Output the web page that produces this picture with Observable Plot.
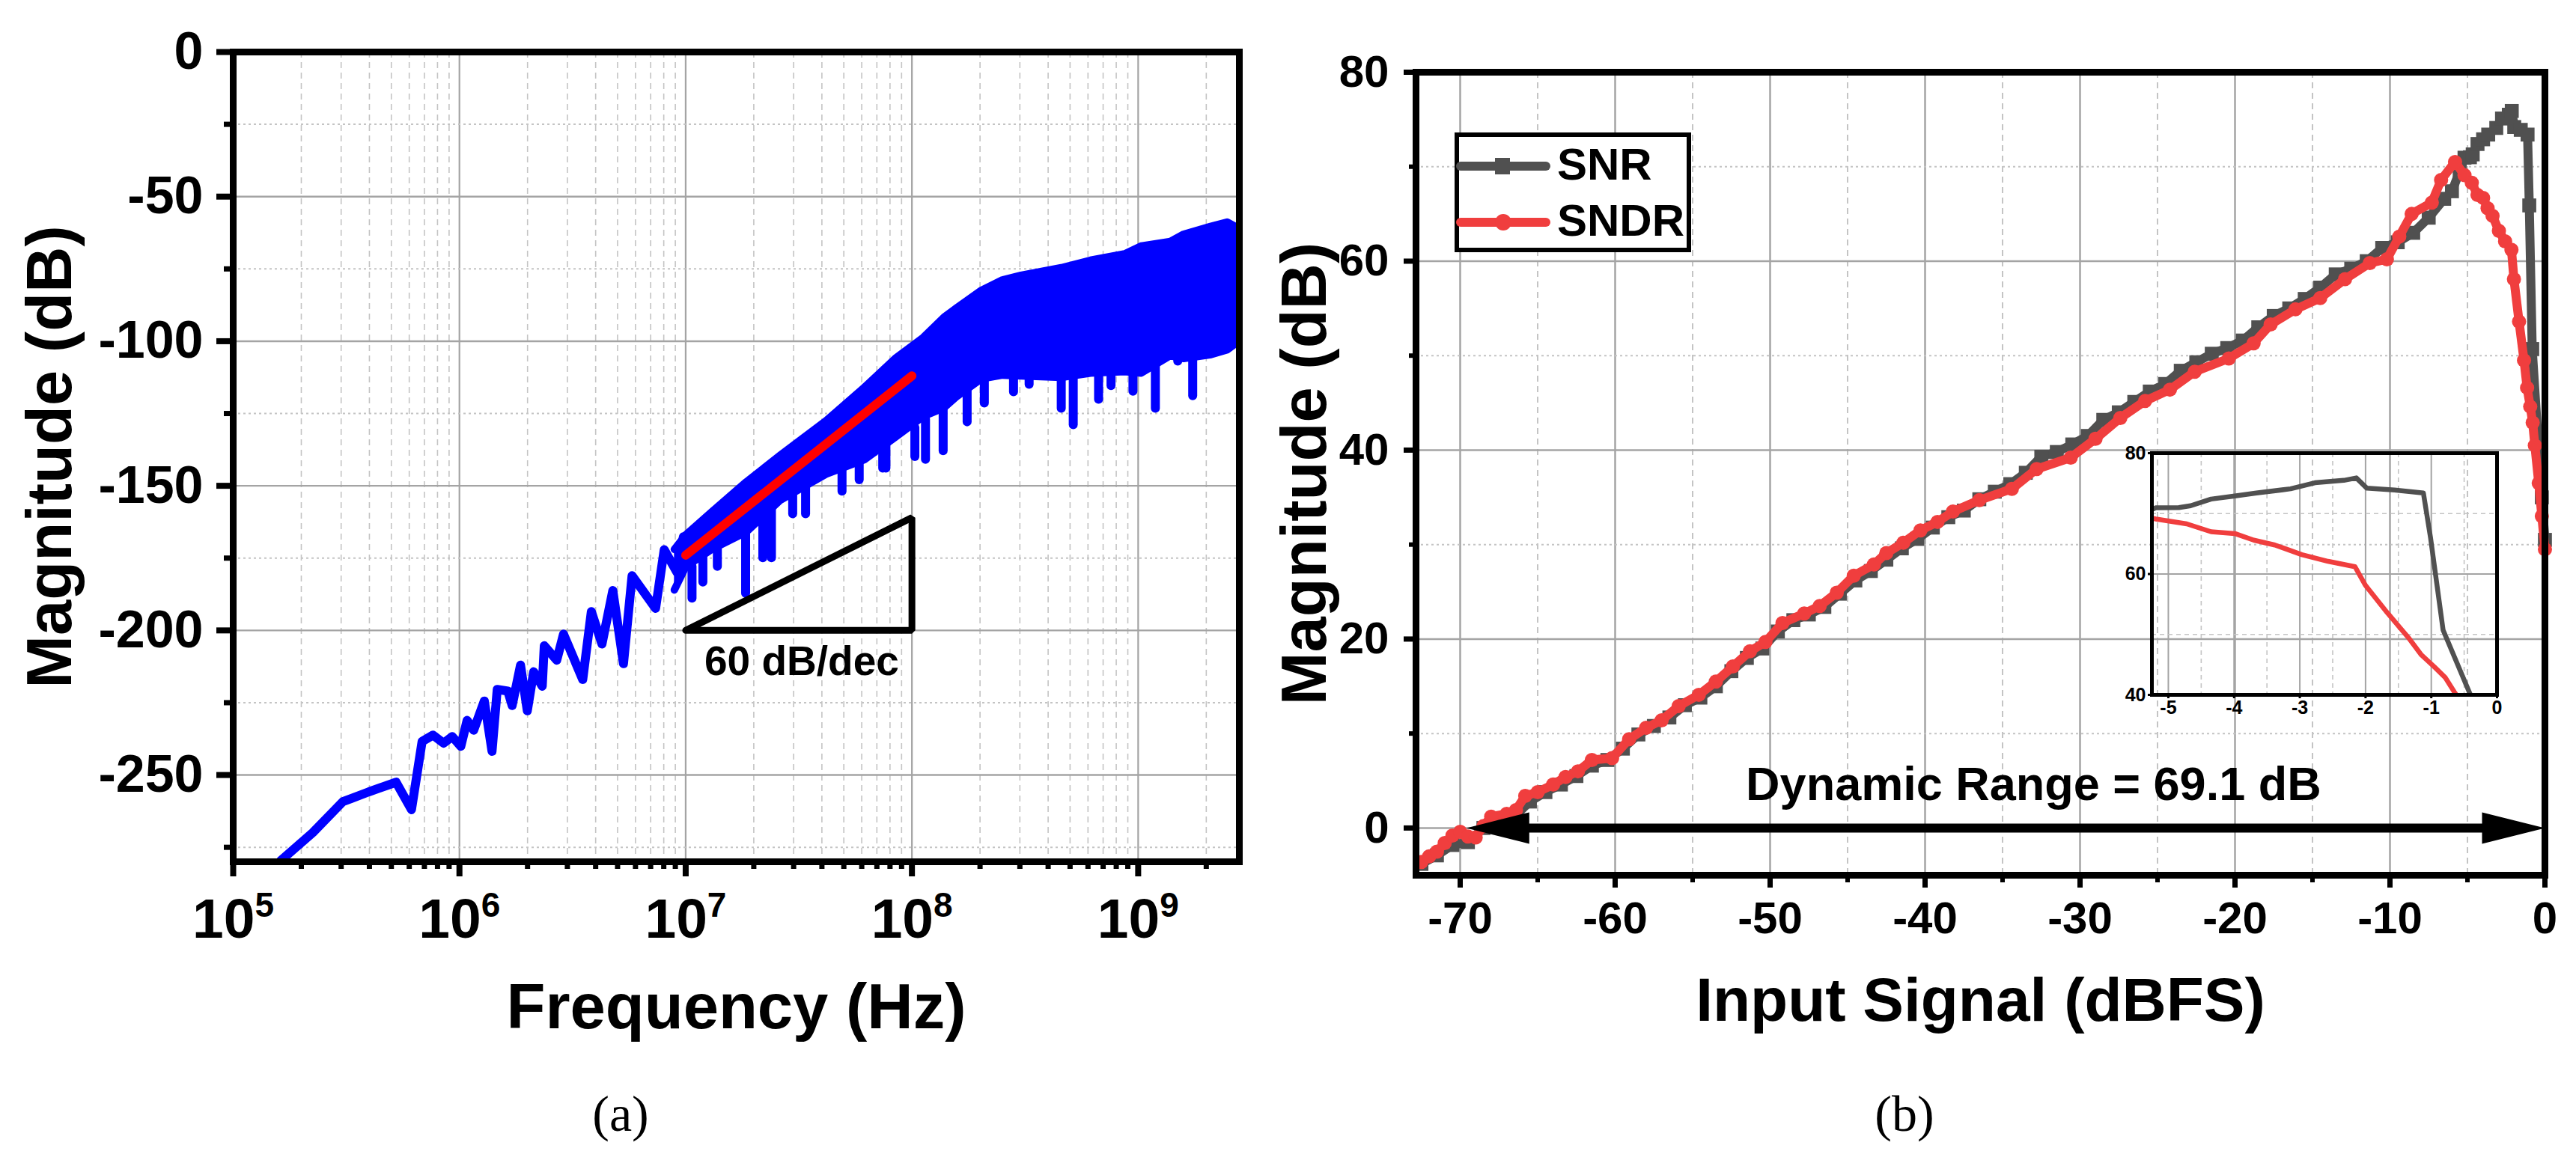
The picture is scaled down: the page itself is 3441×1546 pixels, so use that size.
<!DOCTYPE html>
<html>
<head>
<meta charset="utf-8">
<script src="https://cdn.jsdelivr.net/npm/d3@7"></script>
<script src="https://cdn.jsdelivr.net/npm/@observablehq/plot@0.6"></script>
<style>
  html, body { margin: 0; padding: 0; background: #fff; }
  #fig { position: relative; width: 3441px; height: 1546px; overflow: hidden; }
  .panel { position: absolute; }
  .cap { position: absolute; width: 200px; text-align: center;
         font-family: "Liberation Serif", "Times New Roman", serif; font-size: 68px; line-height: 68px; }
</style>
</head>
<body>
<div id="fig"></div>
<script>
// ---------- (a) output spectrum ----------
// frequencies are given as log10(Hz), magnitudes in dB
const lowLogF = [5.19, 5.21, 5.352, 5.485, 5.523, 5.6, 5.72, 5.788, 5.835, 5.883, 5.93, 5.968, 6.006, 6.034, 6.063,
  6.11, 6.144, 6.167, 6.214, 6.233, 6.27, 6.3, 6.328, 6.366, 6.375, 6.43, 6.46, 6.545, 6.583, 6.63,
  6.678, 6.725, 6.763, 6.867, 6.905, 6.962, 6.99];
const lowDb = [-283, -279.6, -269.9, -259.2, -258.1, -255.8, -252.5, -262, -238.4, -236.2, -239, -236.7, -240.1, -231.1, -234.5,
  -224.4, -241.8, -220.4, -221, -226, -212, -227.8, -214.3, -219.3, -205.3, -210.3, -201.3, -217, -193.5, -204.7,
  -186.2, -211.5, -181.1, -192.4, -172.1, -180, -167.6];

// dense noise band: upper and lower edge
const bandLogF = [6.95, 7.0, 7.115, 7.267, 7.418, 7.62, 7.789, 7.93, 8.05, 8.142, 8.2, 8.307, 8.4, 8.482, 8.66,
  8.789, 8.94, 9.013, 9.142, 9.201, 9.317, 9.393, 9.445];
const bandTop = [-172, -167, -159, -148.7, -139.4, -127.5, -116, -105.7, -98.7, -91.7, -88.3, -82.4, -78.8, -77.2, -74.6,
  -72, -69.8, -67.1, -65.5, -63, -60.4, -58.8, -61];
const bandBottom = [-186, -178, -172, -166, -155, -146, -141, -133, -126, -123, -119, -113, -111.7, -112, -112.5,
  -111, -110.5, -111, -105, -106, -104.7, -103, -100];

// downward spikes hanging under the band
const spikeLogF = [7.028, 7.076, 7.14, 7.265, 7.341, 7.379, 7.473, 7.53, 7.691, 7.767, 7.871, 7.885, 8.013, 8.06, 8.138,
  8.244, 8.32, 8.449, 8.518, 8.66, 8.713, 8.825, 8.88, 8.977, 9.076, 9.175, 9.241];
const spikeTop = [-178, -175, -170, -166, -160, -158, -152, -150, -144, -142, -137, -136, -130, -127, -123,
  -117, -113, -111, -111, -112, -112, -110, -110, -110, -108, -104, -104];
const spikeBottom = [-189, -183.4, -178, -187.3, -175, -175, -159.8, -159.8, -152, -148, -144, -144, -140, -141, -138,
  -128, -121.5, -117.6, -115, -123.3, -129, -120.2, -115.5, -117.4, -123.3, -107, -119];

// red slope fit and the slope triangle
const fitLogF = [7.0, 8.0];
const fitDb = [-174, -112];
const triLogF = [7, 8, 8, 7];
const triDb = [-200, -200, -161, -200];
const slopeNote = {logF: 7.083, db: -211, text: "60 dB/dec"};

const freqTickExp = [5, 6, 7, 8, 9];
const freqMinorMult = [2, 3, 4, 5, 6, 7, 8, 9];
const magTicks = [-250, -200, -150, -100, -50, 0];
const magMinor = [-275, -225, -175, -125, -75, -25];

// ---------- (b) SNR / SNDR vs input ----------
const snrIn = [-72.5, -71.5, -70.5, -69.5, -68.5, -67.5, -66.5, -65.5, -64.5, -63.5, -62.5, -61.5, -60.5, -59.5, -58.5,
  -57.5, -56.5, -55.5, -54.5, -53.5, -52.5, -51.5, -50.5, -49.5, -48.5, -47.5, -46.5, -45.5, -44.5, -43.5,
  -42.5, -41.5, -40.5, -39.5, -38.5, -37.5, -36.5, -35.5, -34.5, -33.5, -32.5, -31.5, -30.5, -29.5, -28.5,
  -27.5, -26.5, -25.5, -24.5, -23.5, -22.5, -21.5, -20.5, -19.5, -18.5, -17.5, -16.5, -15.5, -14.5, -13.5,
  -12.5, -11.5, -10.5, -9.5, -8.5, -7.5, -6.5, -6.0, -5.5, -5.19, -4.84, -4.66, -4.35, -3.99, -3.66,
  -3.14, -2.77, -2.33, -2.14, -1.98, -1.56, -1.12, -1.01, -0.82, -0.42, -0.2, 0];
const snrDb = [-3.8, -2.9, -1.8, -1.5, 0.0, 0.8, 1.2, 2.8, 3.8, 4.6, 5.5, 6.6, 7.2, 8.4, 9.9,
  10.8, 11.7, 13.0, 13.8, 15.0, 16.6, 18.0, 19.0, 20.8, 22.0, 22.6, 23.4, 24.8, 26.2, 27.2,
  28.4, 29.6, 30.6, 31.8, 32.9, 33.6, 34.8, 35.6, 36.4, 37.6, 39.3, 39.8, 40.6, 41.5, 43.2,
  44.0, 45.1, 46.2, 47.0, 48.4, 49.3, 50.2, 50.8, 51.6, 53.0, 54.2, 55.0, 56.0, 57.2, 58.6,
  59.2, 60.0, 61.4, 62.0, 63.0, 64.6, 66.6, 67.4, 69.5, 70.95, 71.0, 71.3, 72.4, 72.9, 73.4,
  74.1, 75.1, 75.5, 75.9, 74.2, 73.9, 73.4, 65.9, 50.7, 40.4, 35.0, 30.5];

const sndrIn = [-72.5, -72.0, -71.5, -71.0, -70.5, -70.0, -69.5, -69.0, -68.5, -68.0, -67.0, -66.4, -65.8, -65.0, -64.0,
  -63.2, -62.4, -61.5, -60.2, -59.1, -58.0, -57.0, -55.9, -54.6, -53.5, -52.4, -51.3, -50.3, -49.2, -47.8,
  -46.8, -45.7, -44.6, -43.3, -42.5, -41.4, -40.3, -39.2, -38.2, -36.5, -34.4, -32.8, -30.6, -29.0, -27.4,
  -25.8, -24.2, -22.6, -20.4, -18.8, -17.7, -16.1, -14.5, -12.9, -11.3, -10.2, -9.4, -8.6, -7.3, -6.7,
  -5.8, -5.19, -4.72, -4.35, -3.99, -3.70, -3.38, -2.97, -2.57, -2.16, -2.0, -1.67, -1.35, -1.15, -0.95,
  -0.79, -0.65, -0.4, -0.2, 0];
const sndrDb = [-3.6, -3.0, -2.5, -1.6, -0.8, -0.4, -0.9, -1.0, 0.2, 1.2, 1.5, 1.9, 3.4, 3.8, 4.6,
  5.4, 6.0, 7.2, 7.4, 9.4, 10.6, 11.4, 12.9, 14.1, 15.5, 17.1, 18.7, 19.7, 21.7, 22.7,
  23.5, 24.9, 26.7, 27.9, 29.1, 30.2, 31.5, 32.4, 33.5, 34.7, 35.9, 38.0, 39.2, 41.2, 43.4,
  45.2, 46.4, 48.3, 49.7, 51.3, 53.3, 54.9, 56.1, 58.1, 59.8, 60.2, 62.6, 65.0, 66.2, 68.6,
  70.5, 69.1, 68.3, 67.0, 66.7, 65.6, 64.8, 63.2, 62.1, 61.2, 58.1, 53.6, 49.5, 46.6, 44.6,
  42.9, 40.5, 36.5, 33.0, 29.5];

const inTicks = [-70, -60, -50, -40, -30, -20, -10, 0];
const inMinor = [-65, -55, -45, -35, -25, -15, -5];
const dbTicks = [0, 20, 40, 60, 80];
const dbMinor = [10, 30, 50, 70];
const dynRange = {from: -69.6, to: 0, level: 0};
const dynNote = {x: -33, y: 4.55, text: "Dynamic Range = 69.1 dB"};

// inset (zoom on the top end)
const insetTicksX = [-5, -4, -3, -2, -1, 0];
const insetMinorX = [-4.5, -3.5, -2.5, -1.5, -0.5];
const insetTicksY = [40, 60, 80];
const insetMinorY = [50, 70];

const seriesNames = ["SNR", "SNDR"];

// ---------- shared look ----------
const font = "'Liberation Sans', Arial, Helvetica, sans-serif";
const blue = "#0000ff";
const snrColor = "#505050";
const sndrColor = "#f03e3e";
const gridMajor = "#a4a4a4";
const gridMinor = "#c4c4c4";

const low = lowLogF.map((e, i) => ({f: 10 ** e, db: lowDb[i]}));
const band = bandLogF.map((e, i) => ({f: 10 ** e, hi: bandTop[i], lo: bandBottom[i]}));
const spikes = spikeLogF.map((e, i) => ({f: 10 ** e, top: spikeTop[i], bot: spikeBottom[i]}));
const fit = fitLogF.map((e, i) => ({f: 10 ** e, db: fitDb[i]}));
const tri = triLogF.map((e, i) => ({f: 10 ** e, db: triDb[i]}));
const decades = freqTickExp.map(e => 10 ** e);
const freqMinor = freqTickExp.flatMap(e => freqMinorMult.map(m => m * 10 ** e)).filter(f => f < 2.8e9);

const snr = snrIn.map((x, i) => ({x, y: snrDb[i]}));
const sndr = sndrIn.map((x, i) => ({x, y: sndrDb[i]}));

// filled, stretched arrow head with its tip at the origin, pointing left
const arrowHead = {
  draw(ctx, size) {
    const r = Math.sqrt(size / Math.PI);
    ctx.moveTo(0, 0);
    ctx.lineTo(4 * r, -r);
    ctx.lineTo(4 * r, r);
    ctx.closePath();
  }
};

const fig = d3.select("#fig");
function place(node, left, top, w, h) {
  fig.append("div").attr("class", "panel")
    .style("left", left + "px").style("top", top + "px")
    .style("width", w + "px").style("height", h + "px")
    .node().append(node);
}

// ---------- panel (a) ----------
const plotA = Plot.plot({
  width: 1720, height: 1420,
  marginLeft: 311, marginRight: 65, marginTop: 69, marginBottom: 269,
  x: {type: "log", domain: [1e5, 2.8e9]},
  y: {domain: [-280, 0]},
  style: {fontFamily: font, background: "transparent", overflow: "visible", maxWidth: "none"},
  marks: [
    Plot.ruleX(freqMinor, {stroke: gridMinor, strokeWidth: 1.6, strokeDasharray: "8,6"}),
    Plot.ruleX(decades, {stroke: gridMajor, strokeWidth: 2.2}),
    Plot.ruleY(magMinor, {stroke: gridMinor, strokeWidth: 2, strokeDasharray: "3,4"}),
    Plot.ruleY(magTicks, {stroke: gridMajor, strokeWidth: 2.4}),
    Plot.areaY(band, {x: "f", y1: "lo", y2: "hi", fill: blue}),
    Plot.line(band, {x: "f", y: "hi", stroke: blue, strokeWidth: 10, strokeLinejoin: "round"}),
    Plot.line(band, {x: "f", y: "lo", stroke: blue, strokeWidth: 10, strokeLinejoin: "round"}),
    Plot.ruleX(spikes, {x: "f", y1: "top", y2: "bot", stroke: blue, strokeWidth: 12, strokeLinecap: "round"}),
    Plot.line(low, {x: "f", y: "db", stroke: blue, strokeWidth: 12, strokeLinejoin: "round", clip: true}),
    Plot.line(fit, {x: "f", y: "db", stroke: "#ff0000", strokeWidth: 12}),
    Plot.line(tri, {x: "f", y: "db", stroke: "#000", strokeWidth: 9, strokeLinejoin: "miter"}),
    Plot.text([slopeNote], {x: d => 10 ** d.logF, y: "db", text: "text", textAnchor: "start",
      fontSize: 55, fontWeight: "bold", fill: "#000"}),
    Plot.frame({stroke: "#000", strokeWidth: 9}),
    Plot.axisX(freqMinor, {tickSize: 10, strokeWidth: 7, tickFormat: () => "", label: null}),
    Plot.axisX(decades, {tickSize: 20, tickPadding: 28, strokeWidth: 8, fontSize: 75, fontWeight: "bold",
      tickFormat: d => String(Math.round(Math.log10(d))), label: null}),
    Plot.axisY(magMinor, {tickSize: 12, strokeWidth: 7, tickFormat: () => "", label: null}),
    Plot.axisY(magTicks, {tickSize: 22, tickPadding: 18, strokeWidth: 8, fontSize: 70, fontWeight: "bold",
      tickFormat: d => String(d), label: null}),
    Plot.text(["Magnitude (dB)"], {text: d => d, frameAnchor: "left", textAnchor: "middle", lineAnchor: "middle",
      rotate: -90, dx: -244, fontSize: 85, fontWeight: "bold", fill: "#000"}),
    Plot.text(["Frequency (Hz)"], {text: d => d, frameAnchor: "bottom", textAnchor: "middle", lineAnchor: "middle",
      dy: 195, fontSize: 85, fontWeight: "bold", fill: "#000"})
  ]
});
// decade labels as 10 with a raised exponent
d3.select(plotA).selectAll('g[aria-label="x-axis tick label"] text').each(function () {
  const e = this.textContent;
  if (!e) return;
  this.textContent = "10";
  d3.select(this).append("tspan").attr("dy", -28).attr("font-size", 46).text(e);
});
place(plotA, 0, 0, 1720, 1420);

// ---------- panel (b) ----------
const plotB = Plot.plot({
  width: 1781, height: 1420,
  marginLeft: 231, marginRight: 42, marginTop: 96, marginBottom: 251,
  x: {domain: [-72.85, 0]},
  y: {domain: [-5, 80]},
  style: {fontFamily: font, background: "transparent", overflow: "visible", maxWidth: "none"},
  marks: [
    Plot.ruleX(inMinor, {stroke: gridMinor, strokeWidth: 2, strokeDasharray: "8,6"}),
    Plot.ruleX(inTicks, {stroke: gridMajor, strokeWidth: 2.5}),
    Plot.ruleY(dbMinor, {stroke: gridMinor, strokeWidth: 2, strokeDasharray: "3,4"}),
    Plot.ruleY(dbTicks, {stroke: gridMajor, strokeWidth: 2.5}),
    Plot.line(snr, {x: "x", y: "y", stroke: snrColor, strokeWidth: 12, strokeLinejoin: "round"}),
    Plot.dot(snr, {x: "x", y: "y", symbol: "square", r: 10.5, fill: snrColor, stroke: "none"}),
    Plot.line(sndr, {x: "x", y: "y", stroke: sndrColor, strokeWidth: 12, strokeLinejoin: "round"}),
    Plot.dot(sndr, {x: "x", y: "y", symbol: "circle", r: 9.5, fill: sndrColor, stroke: "none"}),
    Plot.ruleY([dynRange], {x1: "from", x2: "to", y: "level", stroke: "#000", strokeWidth: 12,
      insetLeft: 40, insetRight: 40}),
    Plot.dot([dynRange], {x: "from", y: "level", symbol: arrowHead, r: 21, fill: "#000", stroke: "none"}),
    Plot.dot([dynRange], {x: "to", y: "level", symbol: arrowHead, r: 21, rotate: 180, fill: "#000", stroke: "none"}),
    Plot.text([dynNote], {x: "x", y: "y", text: "text", fontSize: 63, fontWeight: "bold", fill: "#000"}),
    Plot.frame({stroke: "#000", strokeWidth: 9}),
    Plot.axisX(inMinor, {tickSize: 10, strokeWidth: 6, tickFormat: () => "", label: null}),
    Plot.axisX(inTicks, {tickSize: 17, tickPadding: 18, strokeWidth: 7, fontSize: 60, fontWeight: "bold",
      tickFormat: d => String(d), label: null}),
    Plot.axisY(dbMinor, {tickSize: 9, strokeWidth: 6, tickFormat: () => "", label: null}),
    Plot.axisY(dbTicks, {tickSize: 16, tickPadding: 20, strokeWidth: 7, fontSize: 60, fontWeight: "bold",
      tickFormat: d => String(d), label: null}),
    Plot.text(["Magnitude (dB)"], {text: d => d, frameAnchor: "left", textAnchor: "middle", lineAnchor: "middle",
      rotate: -90, dx: -148, fontSize: 85, fontWeight: "bold", fill: "#000"}),
    Plot.text(["Input Signal (dBFS)"], {text: d => d, frameAnchor: "bottom", textAnchor: "middle", lineAnchor: "middle",
      dy: 168, fontSize: 82, fontWeight: "bold", fill: "#000"})
  ]
});
place(plotB, 1660, 0, 1781, 1420);

// ---------- inset ----------
const plotC = Plot.plot({
  width: 560, height: 420,
  marginLeft: 74, marginRight: 25, marginTop: 45, marginBottom: 52,
  x: {domain: [-5.25, 0]},
  y: {domain: [40, 80]},
  style: {fontFamily: font, background: "transparent", overflow: "visible", maxWidth: "none"},
  marks: [
    Plot.ruleX(insetMinorX, {stroke: gridMinor, strokeWidth: 1.6, strokeDasharray: "6,5"}),
    Plot.ruleX(insetTicksX, {stroke: gridMajor, strokeWidth: 2}),
    Plot.ruleY(insetMinorY, {stroke: gridMinor, strokeWidth: 1.6, strokeDasharray: "6,5"}),
    Plot.ruleY(insetTicksY, {stroke: gridMajor, strokeWidth: 2}),
    Plot.line(snr, {x: "x", y: "y", stroke: snrColor, strokeWidth: 6.5, clip: true}),
    Plot.line(sndr, {x: "x", y: "y", stroke: sndrColor, strokeWidth: 6.5, clip: true}),
    Plot.frame({stroke: "#000", strokeWidth: 5}),
    Plot.axisX(insetTicksX, {tickSize: 5, tickPadding: 3, strokeWidth: 3, fontSize: 25, fontWeight: "bold",
      tickFormat: d => String(d), label: null}),
    Plot.axisY(insetTicksY, {tickSize: 5, tickPadding: 3, strokeWidth: 3, fontSize: 25, fontWeight: "bold",
      tickFormat: d => String(d), label: null})
  ]
});
place(plotC, 2800, 560, 560, 420);

// ---------- legend ----------
const legend = fig.append("svg")
  .style("position", "absolute").style("left", "1943px").style("top", "177px")
  .attr("width", 316).attr("height", 160)
  .attr("font-family", font);
legend.append("rect").attr("x", 3).attr("y", 3).attr("width", 310).attr("height", 154)
  .attr("fill", "#fff").attr("stroke", "#000").attr("stroke-width", 6);
const legendRows = [
  {name: seriesNames[0], color: snrColor, symbol: "square", y: 45},
  {name: seriesNames[1], color: sndrColor, symbol: "circle", y: 120}
];
legendRows.forEach(row => {
  legend.append("line").attr("x1", 8).attr("x2", 122).attr("y1", row.y).attr("y2", row.y)
    .attr("stroke", row.color).attr("stroke-width", 12).attr("stroke-linecap", "round");
  if (row.symbol === "square") {
    legend.append("rect").attr("x", 54).attr("y", row.y - 11).attr("width", 20).attr("height", 22).attr("fill", row.color);
  } else {
    legend.append("circle").attr("cx", 65).attr("cy", row.y).attr("r", 11).attr("fill", row.color);
  }
  legend.append("text").attr("x", 137).attr("y", row.y + 17.5)
    .attr("font-size", 60).attr("font-weight", "bold").attr("fill", "#000").text(row.name);
});

// ---------- sub-figure captions ----------
fig.append("div").attr("class", "cap").style("left", (829 - 100) + "px").style("top", "1454px").text("(a)");
fig.append("div").attr("class", "cap").style("left", (2544 - 100) + "px").style("top", "1454px").text("(b)");
</script>
</body>
</html>
